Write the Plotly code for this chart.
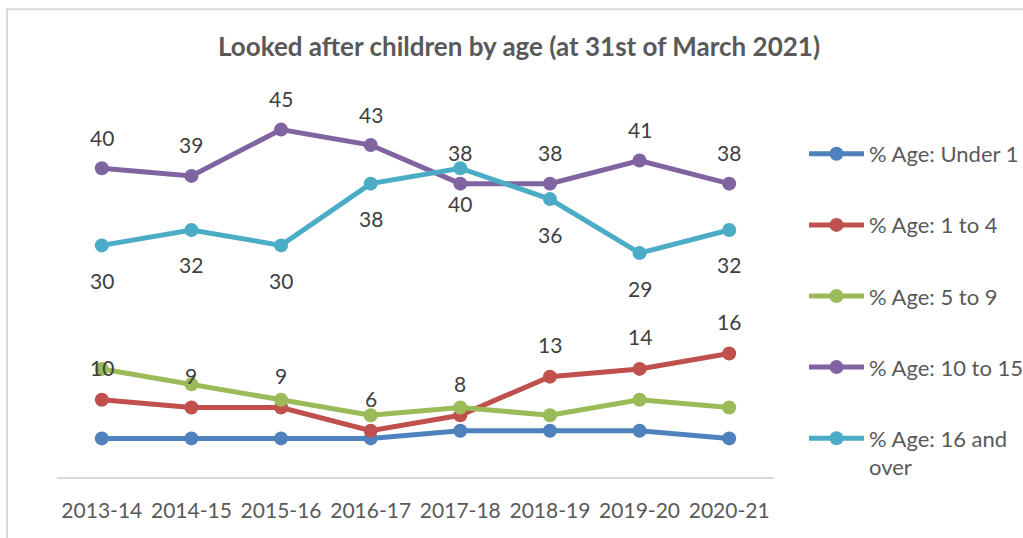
import plotly.graph_objects as go

# Financial years on the category axis
years = ["2013-14", "2014-15", "2015-16", "2016-17", "2017-18", "2018-19", "2019-20", "2020-21"]

# Percentage of looked after children in each age band
under_1 = [5, 5, 5, 5, 6, 6, 6, 5]
age_1_to_4 = [10, 9, 9, 6, 8, 13, 14, 16]
age_5_to_9 = [14, 12, 10, 8, 9, 8, 10, 9]
age_10_to_15 = [40, 39, 45, 43, 38, 38, 41, 38]
age_16_plus = [30, 32, 30, 38, 40, 36, 29, 32]

series_names = [
    "% Age: Under 1",
    "% Age: 1 to 4",
    "% Age: 5 to 9",
    "% Age: 10 to 15",
    "% Age: 16 and<br>over",
]
series_values = [under_1, age_1_to_4, age_5_to_9, age_10_to_15, age_16_plus]
series_colors = ["#4F81BD", "#C0504D", "#9BBB59", "#8064A2", "#4BACC6"]

# Data-label placement per series: vertical pixel offset (None = no labels)
label_shift = [None, 32, None, 31, -35]

FONT = "Lato"
LABEL_COLOR = "#404040"
TEXT_COLOR = "#595959"

fig = go.Figure()

for i, (name, vals, col) in enumerate(zip(series_names, series_values, series_colors)):
    fig.add_trace(go.Scatter(
        x=years, y=vals, name=name, mode="lines+markers",
        line=dict(color=col, width=5),
        marker=dict(color=col, size=14),
        legendgroup=f"g{i}",
        hoverinfo="x+y+name",
    ))

annotations = []
for vals, shift in zip(series_values, label_shift):
    if shift is None:
        continue
    for x, v in zip(years, vals):
        annotations.append(dict(
            x=x, y=v, xref="x", yref="y", text=str(v), showarrow=False,
            yshift=shift, yanchor="middle", xanchor="center",
            font=dict(family=FONT, size=21, color=LABEL_COLOR),
        ))

# Outer frame of the chart
PLOT_L, PLOT_R, PLOT_T, PLOT_B = 57, 774, 91, 477
pw, ph = PLOT_R - PLOT_L, PLOT_B - PLOT_T
def px_x(p):
    return (p - PLOT_L) / pw
def px_y(p):
    return (PLOT_B - p) / ph

shapes = [dict(
    type="rect", xref="paper", yref="paper",
    x0=px_x(7), x1=px_x(1030), y0=px_y(545), y1=px_y(9.3),
    line=dict(color="#D9D9D9", width=2), fillcolor="rgba(0,0,0,0)", layer="below",
)]

fig.update_layout(
    width=1023, height=538,
    margin=dict(l=PLOT_L, r=1023 - PLOT_R, t=PLOT_T, b=538 - PLOT_B, autoexpand=False),
    paper_bgcolor="white", plot_bgcolor="white",
    font=dict(family=FONT, size=20, color=TEXT_COLOR),
    title=dict(
        text="<b>Looked after children by age (at 31st of March 2021)</b>",
        x=519 / 1023, xref="container", xanchor="center",
        y=1 - 47 / 538, yref="container", yanchor="middle",
        font=dict(family=FONT, size=26, color=TEXT_COLOR),
    ),
    xaxis=dict(
        type="category", range=[-0.5, 7.5], showgrid=False, zeroline=False,
        showline=True, linecolor="#D9D9D9", linewidth=2, ticks="",
        ticklabelstandoff=14,
        tickfont=dict(family=FONT, size=21, color=TEXT_COLOR),
        fixedrange=True,
    ),
    yaxis=dict(
        range=[0, 50], visible=False, showgrid=False, zeroline=False, fixedrange=True,
    ),
    showlegend=True,
    legend=dict(
        x=px_x(804), xanchor="left", y=px_y(133), yanchor="top",
        font=dict(family=FONT, size=22, color=TEXT_COLOR),
        itemwidth=55, tracegroupgap=39.5, valign="top",
        bgcolor="rgba(0,0,0,0)", traceorder="grouped",
    ),
    annotations=annotations,
    shapes=shapes,
)

fig.write_html("out.html")
